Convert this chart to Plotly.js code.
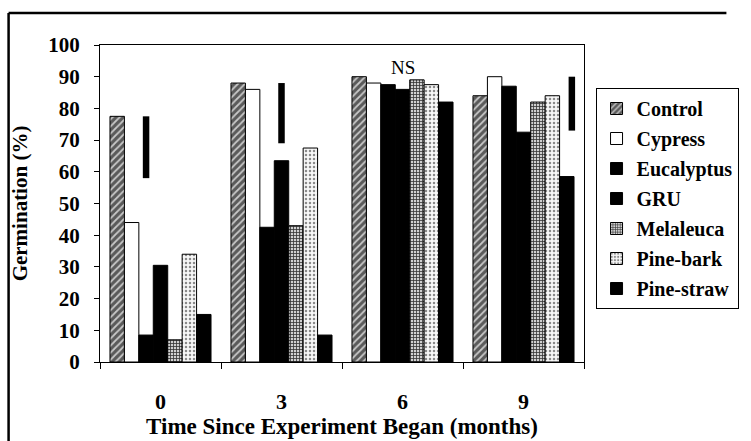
<!DOCTYPE html>
<html>
<head>
<meta charset="utf-8">
<script src="https://cdn.plot.ly/plotly-3.0.1.min.js"></script>
<style>html,body{margin:0;padding:0;background:#fff;}#chart{width:751px;height:441px;}</style>
</head>
<body>
<div id="chart"></div>
<script>
// ---- data ----
const categories = ['0', '3', '6', '9'];
const seriesNames = ['Control', 'Cypress', 'Eucalyptus', 'GRU', 'Melaleuca', 'Pine-bark', 'Pine-straw'];
const control    = [77.5, 88, 90, 84];
const cypress    = [44, 86, 88, 90];
const eucalyptus = [8.5, 42.5, 87.5, 87];
const gru        = [30.5, 63.5, 86, 72.5];
const melaleuca  = [7, 43, 89, 82];
const pineBark   = [34, 67.5, 87.5, 84];
const pineStraw  = [15, 8.5, 82, 58.5];
const lsdCategory = ['0', '3', '9'];
const lsdLow  = [58, 69, 73];
const lsdHigh = [77.5, 88, 90];
const nsCategory = '6';
const nsText = 'NS';
const xTitle = 'Time Since Experiment Began (months)';
const yTitle = 'Germination (%)';

// ---- styles ----
const FONT = '"Liberation Serif", "Times New Roman", serif';
const BARGAP = 0.165;
const slotW = (1 - BARGAP) / seriesNames.length;
const values = [control, cypress, eucalyptus, gru, melaleuca, pineBark, pineStraw];
const styles = [
  {color: '#666', pattern: {shape: '/', bgcolor: '#5a5a5a', fgcolor: '#c8c8c8', size: 5, solidity: 0.35}},
  {color: '#ffffff'},
  {color: '#000000'},
  {color: '#000000'},
  {color: '#888', pattern: {shape: '+', bgcolor: '#d0d0d0', fgcolor: '#333', size: 3, solidity: 0.45}},
  {color: '#eee', pattern: {shape: '.', bgcolor: '#f7f7f7', fgcolor: '#8a8a8a', size: 4, solidity: 0.3}},
  {color: '#000000'}
];
const xIndex = categories.map((c, i) => i);

const traces = seriesNames.map((name, k) => ({
  type: 'bar',
  name: name,
  x: xIndex,
  y: values[k],
  legendgroup: name,
  marker: Object.assign({line: {color: '#000', width: 1}}, styles[k]),
  hoverinfo: 'skip'
}));

// significance bars (positions in slot units relative to group centre)
const lsdSlot = [-1, 0, 3.35];
const lx = [], ly = [];
lsdCategory.forEach((c, i) => {
  const p = categories.indexOf(c) + lsdSlot[i] * slotW;
  lx.push(p, p, null);
  ly.push(lsdLow[i], lsdHigh[i], null);
});
traces.push({
  type: 'scatter', mode: 'lines', x: lx, y: ly,
  line: {color: '#000', width: 6.5}, showlegend: false, hoverinfo: 'skip'
});

// pixel helpers for frame
const W = 751, H = 441, ML = 100, MR = 148, MT = 45, MB = 79;
const pw = W - ML - MR, ph = H - MT - MB;
const px = v => (v - ML) / pw;
const py = v => (H - MB - v) / ph;

const layout = {
  width: W, height: H,
  margin: {l: ML, r: MR, t: MT, b: MB, pad: 0},
  paper_bgcolor: '#fff', plot_bgcolor: '#fff',
  barmode: 'group', bargap: BARGAP, bargroupgap: 0,
  font: {family: FONT, color: '#000'},
  showlegend: true,
  legend: {
    x: px(615), y: py(88), xanchor: 'left', yanchor: 'top',
    bordercolor: '#000', borderwidth: 1, bgcolor: '#fff',
    font: {family: FONT, size: 20, weight: 'bold', color: '#000'},
    traceorder: 'grouped', tracegroupgap: 1, itemwidth: 30
  },
  xaxis: {
    type: 'linear', range: [-0.5, 3.5],
    tickmode: 'array', tickvals: xIndex, ticktext: categories,
    ticks: '', ticklabelstandoff: 20,
    tickfont: {family: FONT, size: 22, weight: 'bold'},
    minor: {tickmode: 'array', tickvals: [-0.5, 0.5, 1.5, 2.5, 3.5], ticks: 'outside', ticklen: 6, tickcolor: '#000', showgrid: false},
    showline: true, mirror: true, linecolor: '#000', linewidth: 1,
    showgrid: false, zeroline: false, fixedrange: true,
    title: {text: xTitle, font: {family: FONT, size: 23, weight: 'bold'}, standoff: 0}
  },
  yaxis: {
    range: [0, 100], tickmode: 'linear', tick0: 0, dtick: 10,
    ticks: 'outside', ticklen: 5, tickcolor: '#000', ticklabelstandoff: 10,
    tickfont: {family: FONT, size: 21, weight: 'bold'},
    showline: true, mirror: true, linecolor: '#000', linewidth: 1,
    showgrid: false, zeroline: false, fixedrange: true,
    title: {text: yTitle, font: {family: FONT, size: 21, weight: 'bold'}, standoff: 14}
  },
  annotations: [{
    x: categories.indexOf(nsCategory), y: 93, xref: 'x', yref: 'y',
    text: nsText, showarrow: false,
    font: {family: FONT, size: 19, color: '#000'}
  }],
  shapes: [
    {type: 'line', xref: 'paper', yref: 'paper', x0: px(5), x1: px(751), y0: py(13), y1: py(13), line: {color: '#000', width: 2.5}},
    {type: 'line', xref: 'paper', yref: 'paper', x0: px(5), x1: px(5), y0: py(13), y1: py(441), line: {color: '#000', width: 2.5}}
  ]
};

Plotly.newPlot('chart', traces, layout, {displayModeBar: false, staticPlot: true});
</script>
</body>
</html>
